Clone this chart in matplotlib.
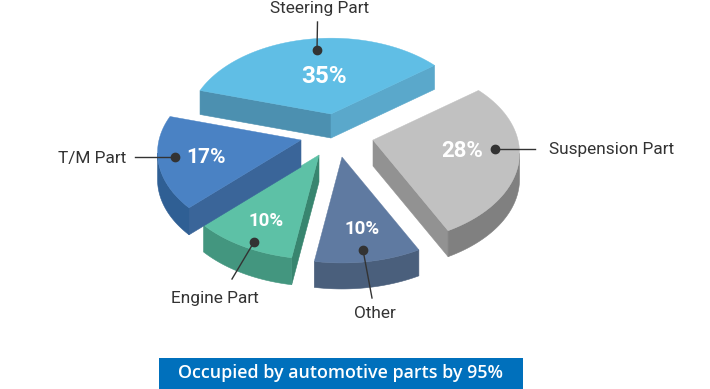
import numpy as np
import matplotlib
matplotlib.use('Agg')
import matplotlib.pyplot as plt

names = ['Steering Part', 'Suspension Part', 'Other', 'Engine Part', 'T/M Part']
shares = [35, 28, 10, 10, 17]
banner = 'Occupied by automotive parts by 95%'

# look of each slice, same order as shares
apex = [(331, 114), (373, 140), (342, 157), (319, 155), (301, 140)]
radius = [142, 145, 148, 146, 142]
depth = [24, 26, 26, 27, 27]
top_col = ['#60bee5', '#c1c1c1', '#5f7aa1', '#5dc1a6', '#4a82c4']
start_col = ['#4c90b0', '#929292', '#4a5f7c', '#38856f', '#3a6599']
end_col = ['#5aa8cb', '#929292', '#4a5f7c', '#38856f', '#3a6599']
arc_col = ['#5aa8cb', '#808080', '#4a5f7c', '#43967f', '#2f5f94']

pct_xy = [(324, 76), (462, 151), (362, 229), (266, 221), (206, 157)]
pct_size = [17.5, 16, 13.5, 13.5, 15]
dots = [(317, 50), (495, 149), (363, 250), (254, 242), (175, 157)]
line_ends = [(317.5, 22), (535, 149), (372, 298), (232, 279), (135, 157)]
label_xy = [(320, 8), (549, 149), (375, 313), (215, 298), (92, 158)]
label_ha = ['center', 'left', 'center', 'center', 'center']

START = 163.6
D = 1000
K = 0.61


def project(a, r, ang):
  t = np.radians(ang)
  x = r * np.cos(t)
  y = r * np.sin(t)
  s = D / (D + y)
  return a[0] + x * s, a[1] - K * y * s


def wall_visible(p, q, c):
  n = np.array([q[1] - p[1], p[0] - q[0]])
  m = (np.array(p) + np.array(q)) / 2
  if np.dot(n, m - np.array(c)) < 0:
    n = -n
  return n[1] > 0


def extrude(ax, line, h, col):
  xs = [p[0] for p in line] + [p[0] for p in line[::-1]]
  ys = [p[1] for p in line] + [p[1] + h for p in line[::-1]]
  ax.fill(xs, ys, color=col, lw=0.4)


def draw_slice(ax, a, r, ang0, ang1, h, top, col0, col1, arc):
  angs = np.linspace(ang0, ang1, 60)
  pts = [project(a, r, v) for v in angs]
  poly = [a] + pts
  c = np.mean(poly, axis=0)
  if wall_visible(a, pts[0], c):
    extrude(ax, [a, pts[0]], h, col0)
  if wall_visible(pts[-1], a, c):
    extrude(ax, [pts[-1], a], h, col1)
  seen = [pts[i] for i in range(len(pts) - 1) if wall_visible(pts[i], pts[i + 1], c)]
  if seen:
    # last visible segment needs its far point as well
    j = pts.index(seen[-1])
    extrude(ax, seen + [pts[j + 1]], h, arc)
  ax.fill([p[0] for p in poly], [p[1] for p in poly], color=top, lw=0.3)


fig = plt.figure(figsize=(7.1, 3.89), dpi=100)
ax = fig.add_axes([0, 0, 1, 1])
ax.set_xlim(0, 710)
ax.set_ylim(389, 0)
ax.axis('off')

ang = START
for i, v in enumerate(shares):
  sweep = v / sum(shares) * 360
  draw_slice(ax, apex[i], radius[i], ang, ang - sweep, depth[i], top_col[i], start_col[i], end_col[i], arc_col[i])
  ang -= sweep

for i, v in enumerate(shares):
  ax.plot([dots[i][0], line_ends[i][0]], [dots[i][1], line_ends[i][1]], color='#333333', lw=1)
  ax.plot(*dots[i], 'o', color='#333333', ms=6)
  ax.text(*pct_xy[i], f'{v}%', color='white', fontsize=pct_size[i], fontweight='bold',
          family='Roboto', ha='center', va='center')
  ax.text(*label_xy[i], names[i], color='#333333', fontsize=12.4, family='Roboto',
          ha=label_ha[i], va='center')

ax.fill_between([159, 523], 358, 389, color='#0070bc', lw=0)
ax.text(341, 373, banner, color='white', fontsize=12.9, family='Open Sans', fontweight='semibold',
        ha='center', va='center')

fig.savefig('out.png', dpi=100)
